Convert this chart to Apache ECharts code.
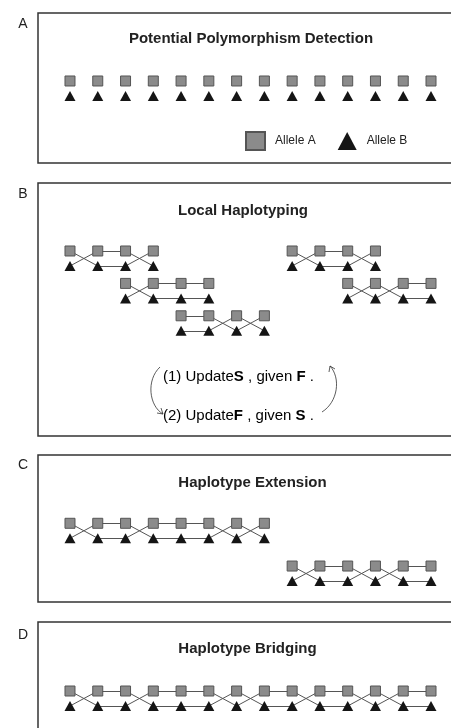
<!DOCTYPE html>
<html>
<head>
<meta charset="utf-8">
<script src="https://cdn.jsdelivr.net/npm/echarts@6/dist/echarts.min.js"></script>
<style>html,body{margin:0;padding:0;background:#fff}#c{width:451px;height:728px}</style>
</head>
<body>
<div id="c"></div>
<script>
// ---- data ----
const panelLabels = ['A', 'B', 'C', 'D'];
const panelTitles = ['Potential Polymorphism Detection', 'Local Haplotyping', 'Haplotype Extension', 'Haplotype Bridging'];
const alleleNames = ['Allele A', 'Allele B'];
// Panel A: all detected SNP positions
const snpsA = [0, 1, 2, 3, 4, 5, 6, 7, 8, 9, 10, 11, 12, 13];
// Blocks: first SNP index, track (row), link types between consecutive SNPs ('s' = same phase, 'x' = switched)
const blockStartsB = [0, 8, 2, 10, 4];
const blockTracksB = [0, 0, 1, 1, 2];
const blockLinksB = ['xsx', 'xsx', 'xss', 'xxs', 'sxx'];
const blockStartsC = [0, 8];
const blockTracksC = [0, 1];
const blockLinksC = ['xsxssxx', 'xsxxs'];
const blockStartsD = [0];
const blockTracksD = [0];
const blockLinksD = ['xsxssxxsxsxxs'];
const cycleLines = [['(1) Update', 'S', ' , given ', 'F', ' .'], ['(2) Update', 'F', ' , given ', 'S', ' .']];

// ---- layout / style ----
const FONT = '"Liberation Sans", Arial, sans-serif';
const PX = 15; // pixels per allele-row unit
const grids = [
  { top: 13, height: 150, yMin: -4.533, trackGap: 0 },
  { top: 183, height: 253, yMin: -4.533, trackGap: 2.16 },
  { top: 455, height: 147, yMin: -4.553, trackGap: 2.85 },
  { top: 622, height: 130, yMin: -4.6, trackGap: 0 }
];
const gridLeft = 38, gridWidth = 420;
const xMin = -1.152, xMax = 13.972;

function buildPanel(gi, starts, tracks, links) {
  const g = grids[gi];
  const sq = [], tri = [], segs = [];
  starts.forEach((s, k) => {
    const y0 = tracks[k] * g.trackGap;
    const n = links[k].length + 1;
    for (let i = 0; i < n; i++) {
      sq.push([s + i, y0]);
      tri.push([s + i, y0 + 1]);
    }
    for (let i = 0; i < n - 1; i++) {
      const a = s + i, b = s + i + 1;
      if (links[k][i] === 's') {
        segs.push({ coords: [[a, y0], [b, y0]] });
        segs.push({ coords: [[a, y0 + 1], [b, y0 + 1]] });
      } else {
        segs.push({ coords: [[a, y0], [b, y0 + 1]] });
        segs.push({ coords: [[a, y0 + 1], [b, y0]] });
      }
    }
  });
  return { sq, tri, segs };
}

const panels = [
  { sq: snpsA.map(i => [i, 0]), tri: snpsA.map(i => [i, 1]), segs: [] },
  buildPanel(1, blockStartsB, blockTracksB, blockLinksB),
  buildPanel(2, blockStartsC, blockTracksC, blockLinksC),
  buildPanel(3, blockStartsD, blockTracksD, blockLinksD)
];

const gridOpt = [], xAxes = [], yAxes = [], series = [];
grids.forEach((g, i) => {
  gridOpt.push({ left: gridLeft, width: gridWidth, top: g.top, height: g.height, show: true,
    borderColor: '#333', borderWidth: 1.5, backgroundColor: 'transparent', containLabel: false, outerBoundsMode: 'none' });
  xAxes.push({ gridIndex: i, type: 'value', min: xMin, max: xMax, show: false });
  yAxes.push({ gridIndex: i, type: 'value', inverse: true, min: g.yMin, max: g.yMin + g.height / PX, show: false });
  const p = panels[i];
  if (p.segs.length) {
    series.push({ type: 'lines', coordinateSystem: 'cartesian2d', xAxisIndex: i, yAxisIndex: i, silent: true,
      lineStyle: { color: '#555', width: 1, opacity: 1 }, data: p.segs, z: 1 });
  }
  series.push({ name: alleleNames[0], type: 'scatter', xAxisIndex: i, yAxisIndex: i, symbol: 'rect', symbolSize: 10,
    itemStyle: { color: '#8b8b8b', borderColor: '#555', borderWidth: 1, opacity: 1 }, data: p.sq, z: 3, silent: true });
  series.push({ name: alleleNames[1], type: 'scatter', xAxisIndex: i, yAxisIndex: i, symbol: 'triangle', symbolSize: [11, 10],
    itemStyle: { color: '#151515', opacity: 1 }, data: p.tri, z: 3, silent: true });
});

const labelY = [24, 194, 465, 635];
const titlePos = [[251, 39], [243, 211], [252.5, 483], [247.5, 649]];
const graphics = [];
panelLabels.forEach((t, i) => {
  graphics.push({ type: 'text', x: 23, y: labelY[i], style: { text: t, font: '14px ' + FONT, fill: '#222', align: 'center', verticalAlign: 'middle' } });
  graphics.push({ type: 'text', x: titlePos[i][0], y: titlePos[i][1], style: { text: panelTitles[i], font: 'bold 15px ' + FONT, fill: '#222', align: 'center', verticalAlign: 'middle' } });
});
const cycleY = [377, 416];
cycleLines.forEach((parts, i) => {
  graphics.push({ type: 'text', x: 163, y: cycleY[i], style: {
    text: '{n|' + parts[0] + '}{b|' + parts[1] + '}{n|' + parts[2] + '}{b|' + parts[3] + '}{n|' + parts[4] + '}',
    verticalAlign: 'middle', align: 'left',
    rich: { n: { fontSize: 15, fontFamily: FONT, color: '#222' }, b: { fontSize: 15, fontFamily: FONT, fontWeight: 'bold', color: '#222' } } } });
});
// cycle arrows
graphics.push({ type: 'bezierCurve', shape: { x1: 160, y1: 367, cpx1: 146, cpy1: 380, cpx2: 149, cpy2: 406, x2: 163, y2: 414 }, style: { stroke: '#333', lineWidth: 0.8, fill: null } });
graphics.push({ type: 'polyline', shape: { points: [[157, 413], [163, 414], [161, 408]] }, style: { stroke: '#333', lineWidth: 0.8, fill: null } });
graphics.push({ type: 'bezierCurve', shape: { x1: 322, y1: 412, cpx1: 338, cpy1: 402, cpx2: 341, cpy2: 378, x2: 330, y2: 366 }, style: { stroke: '#333', lineWidth: 0.8, fill: null } });
graphics.push({ type: 'polyline', shape: { points: [[329, 372], [330, 366], [335, 369]] }, style: { stroke: '#333', lineWidth: 0.8, fill: null } });

const chart = echarts.init(document.getElementById('c'), null, { renderer: 'canvas' });
chart.setOption({
  animation: false,
  backgroundColor: '#fff',
  textStyle: { fontFamily: FONT },
  legend: { data: alleleNames, left: 240, top: 126, itemWidth: 19, itemHeight: 18, itemGap: 22, selectedMode: false,
    textStyle: { fontSize: 12, color: '#222', fontFamily: FONT, padding: [0, 0, 0, 5] } },
  grid: gridOpt,
  xAxis: xAxes,
  yAxis: yAxes,
  series: series,
  graphic: graphics
});
</script>
</body>
</html>
